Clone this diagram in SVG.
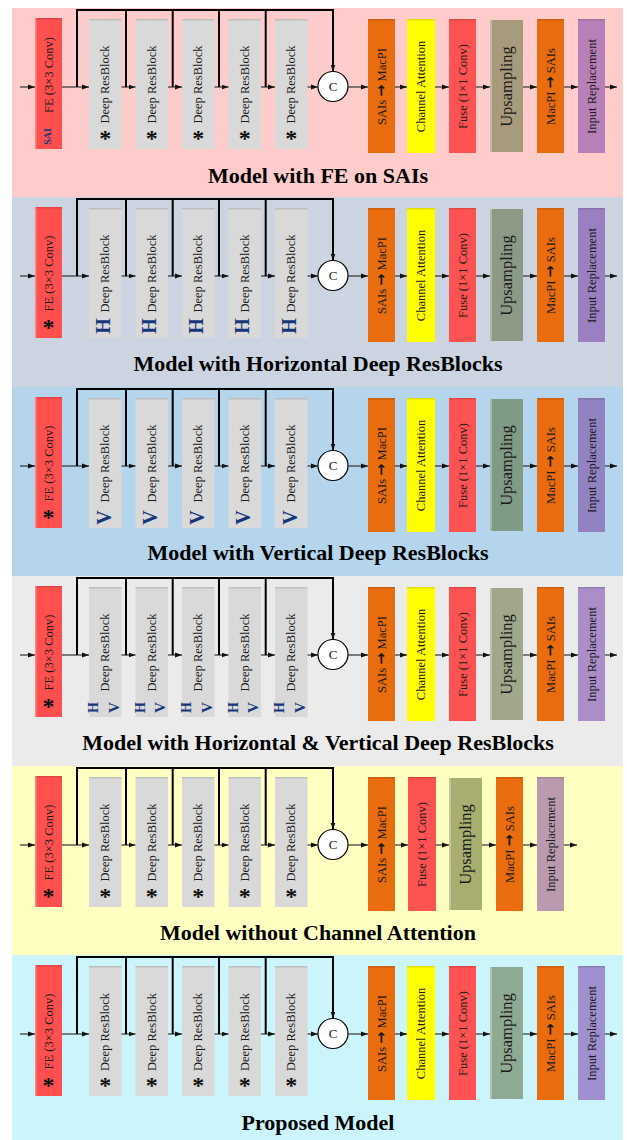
<svg xmlns="http://www.w3.org/2000/svg" width="627" height="1140" viewBox="0 0 627 1140">
<defs>
<marker id="ah" markerUnits="userSpaceOnUse" markerWidth="7" markerHeight="6" viewBox="0 0 7 6" refX="7" refY="3" orient="auto"><path d="M0,0.5L7,3L0,5.5z" fill="#111"/></marker>
<style>
.fe{fill:#FF4F4F}
.db{fill:#D9D9D9}
.or{fill:#E96C0F}
.ca{fill:#FFFF00}
.fu{fill:#FF5252}
.tp{fill:#000;opacity:.12}
.lf{fill:#fff;opacity:.3}
text{font-family:"Liberation Serif","Times New Roman",serif;fill:#1a1a1a}
.t{font-size:12.5px;text-anchor:middle}
.up{font-size:16.5px}
.ar{font-family:"DejaVu Sans",sans-serif;font-size:14.5px;font-weight:bold}
.ast{font-size:24px;font-weight:bold;text-anchor:middle;fill:#111}
.mk{font-weight:bold;fill:#17367A;text-anchor:middle}
.ttl{font-size:22px;font-weight:bold;text-anchor:middle;fill:#000}
.ln{fill:none;stroke:#333;stroke-width:1.2;marker-end:url(#ah)}
.bus{fill:none;stroke:#000;stroke-width:2}
.bar{fill:none;stroke:#000;stroke-width:2;marker-end:url(#ah)}
.cc{fill:#fff;stroke:#000;stroke-width:1.2}
.c{font-size:13px;text-anchor:middle}
</style>
</defs>
<rect width="627" height="1140" fill="#fff"/>

<!-- ============ Panel 1: FE on SAIs ============ -->
<g id="panel1" transform="translate(0,8)">
<rect x="12" y="0" width="611" height="189" fill="#FFCCCC"/>
<g id="p1-fe"><rect class="fe" x="35" y="10" width="27" height="131"/><rect class="tp" x="35" y="10" width="27" height="1.5"/><rect class="lf" x="35" y="10" width="1.5" height="131"/>
<text class="t" transform="translate(52.5,67) rotate(-90)">FE (3×3 Conv)</text>
<text class="mk" font-size="10" transform="translate(51,128.5) rotate(-90)">SAI</text></g>
<g id="p1-drb1"><rect class="db" x="89" y="11" width="32.5" height="130"/><rect class="tp" x="89" y="11" width="32.5" height="1.5"/><text class="t" transform="translate(109.3,76.5) rotate(-90)">Deep ResBlock</text><text class="ast" x="105.3" y="137.5">*</text></g>
<g id="p1-drb2"><rect class="db" x="135.5" y="11" width="32.5" height="130"/><rect class="tp" x="135.5" y="11" width="32.5" height="1.5"/><text class="t" transform="translate(155.8,76.5) rotate(-90)">Deep ResBlock</text><text class="ast" x="151.8" y="137.5">*</text></g>
<g id="p1-drb3"><rect class="db" x="182" y="11" width="32.5" height="130"/><rect class="tp" x="182" y="11" width="32.5" height="1.5"/><text class="t" transform="translate(202.3,76.5) rotate(-90)">Deep ResBlock</text><text class="ast" x="198.3" y="137.5">*</text></g>
<g id="p1-drb4"><rect class="db" x="228.5" y="11" width="32.5" height="130"/><rect class="tp" x="228.5" y="11" width="32.5" height="1.5"/><text class="t" transform="translate(248.8,76.5) rotate(-90)">Deep ResBlock</text><text class="ast" x="244.8" y="137.5">*</text></g>
<g id="p1-drb5"><rect class="db" x="275" y="11" width="32.5" height="130"/><rect class="tp" x="275" y="11" width="32.5" height="1.5"/><text class="t" transform="translate(295.3,76.5) rotate(-90)">Deep ResBlock</text><text class="ast" x="291.3" y="137.5">*</text></g>
<g id="p1-concat"><circle class="cc" cx="333" cy="78.5" r="15"/><text class="c" x="333" y="83">C</text></g>
<g id="p1-s2m"><rect class="or" x="368" y="11" width="27" height="134"/><rect class="tp" x="368" y="11" width="27" height="1.5"/><text class="t" transform="translate(385.5,78.5) rotate(-90)">SAIs <tspan class="ar">→</tspan> MacPI</text></g>
<g id="p1-ca"><rect class="ca" x="407" y="11" width="28" height="134"/><rect class="tp" x="407" y="11" width="28" height="1.5"/><text class="t" transform="translate(425,78.5) rotate(-90)">Channel Attention</text></g>
<g id="p1-fuse"><rect class="fu" x="449" y="11" width="27" height="134"/><rect class="tp" x="449" y="11" width="27" height="1.5"/><text class="t" transform="translate(466.5,78.5) rotate(-90)">Fuse (1×1 Conv)</text></g>
<g id="p1-up"><rect x="490" y="12" width="33" height="132" fill="#A89A7C"/><rect class="lf" x="490" y="12" width="2" height="132"/><text class="t up" transform="translate(512,78.5) rotate(-90)">Upsampling</text></g>
<g id="p1-m2s"><rect class="or" x="537" y="11" width="27" height="134"/><rect class="tp" x="537" y="11" width="27" height="1.5"/><text class="t" transform="translate(554.5,78.5) rotate(-90)">MacPI <tspan class="ar">→</tspan> SAIs</text></g>
<g id="p1-ir"><rect x="578" y="11" width="27" height="134" fill="#B880B8"/><rect class="tp" x="578" y="11" width="27" height="1.5"/><text class="t" transform="translate(595.5,78.5) rotate(-90)">Input Replacement</text></g>
<g id="p1-links">
<path class="ln" d="M20,79H35"/><path class="ln" d="M62,79H89"/><path class="ln" d="M121.5,79H135.5"/><path class="ln" d="M168,79H182"/><path class="ln" d="M214.5,79H228.5"/><path class="ln" d="M261,79H275"/><path class="ln" d="M307.5,79H318"/><path class="ln" d="M348,79H368"/><path class="ln" d="M395,79H407"/><path class="ln" d="M435,79H449"/><path class="ln" d="M476,79H490"/><path class="ln" d="M523,79H537"/><path class="ln" d="M564,79H578"/><path class="ln" d="M605,79H617"/>
<path class="bar" d="M77,79V2H333V63.5"/><path class="bus" d="M126,79V2M172.7,79V2M219,79V2M265.7,79V2"/>
</g>
<text class="ttl" x="318" y="175">Model with FE on SAIs</text>
</g>

<!-- ============ Panel 2: horizontal Deep ResBlocks ============ -->
<g id="panel2" transform="translate(0,197)">
<rect x="12" y="0" width="611" height="190" fill="#CCD3E1"/>
<g id="p2-fe"><rect class="fe" x="35" y="10" width="27" height="131"/><rect class="tp" x="35" y="10" width="27" height="1.5"/><rect class="lf" x="35" y="10" width="1.5" height="131"/>
<text class="t" transform="translate(52.5,76.5) rotate(-90)">FE (3×3 Conv)</text><text class="ast" x="48.5" y="137.5">*</text></g>
<g id="p2-drb1"><rect class="db" x="89" y="11" width="32.5" height="130"/><rect class="tp" x="89" y="11" width="32.5" height="1.5"/><text class="t" transform="translate(109.3,76.5) rotate(-90)">Deep ResBlock</text><text class="mk" font-size="20" transform="translate(109.8,129) rotate(-90)">H</text></g>
<g id="p2-drb2"><rect class="db" x="135.5" y="11" width="32.5" height="130"/><rect class="tp" x="135.5" y="11" width="32.5" height="1.5"/><text class="t" transform="translate(155.8,76.5) rotate(-90)">Deep ResBlock</text><text class="mk" font-size="20" transform="translate(156.3,129) rotate(-90)">H</text></g>
<g id="p2-drb3"><rect class="db" x="182" y="11" width="32.5" height="130"/><rect class="tp" x="182" y="11" width="32.5" height="1.5"/><text class="t" transform="translate(202.3,76.5) rotate(-90)">Deep ResBlock</text><text class="mk" font-size="20" transform="translate(202.8,129) rotate(-90)">H</text></g>
<g id="p2-drb4"><rect class="db" x="228.5" y="11" width="32.5" height="130"/><rect class="tp" x="228.5" y="11" width="32.5" height="1.5"/><text class="t" transform="translate(248.8,76.5) rotate(-90)">Deep ResBlock</text><text class="mk" font-size="20" transform="translate(249.3,129) rotate(-90)">H</text></g>
<g id="p2-drb5"><rect class="db" x="275" y="11" width="32.5" height="130"/><rect class="tp" x="275" y="11" width="32.5" height="1.5"/><text class="t" transform="translate(295.3,76.5) rotate(-90)">Deep ResBlock</text><text class="mk" font-size="20" transform="translate(295.8,129) rotate(-90)">H</text></g>
<g id="p2-concat"><circle class="cc" cx="333" cy="78.5" r="15"/><text class="c" x="333" y="83">C</text></g>
<g id="p2-s2m"><rect class="or" x="368" y="11" width="27" height="134"/><rect class="tp" x="368" y="11" width="27" height="1.5"/><text class="t" transform="translate(385.5,78.5) rotate(-90)">SAIs <tspan class="ar">→</tspan> MacPI</text></g>
<g id="p2-ca"><rect class="ca" x="407" y="11" width="28" height="134"/><rect class="tp" x="407" y="11" width="28" height="1.5"/><text class="t" transform="translate(425,78.5) rotate(-90)">Channel Attention</text></g>
<g id="p2-fuse"><rect class="fu" x="449" y="11" width="27" height="134"/><rect class="tp" x="449" y="11" width="27" height="1.5"/><text class="t" transform="translate(466.5,78.5) rotate(-90)">Fuse (1×1 Conv)</text></g>
<g id="p2-up"><rect x="490" y="12" width="33" height="132" fill="#8C9A85"/><rect class="lf" x="490" y="12" width="2" height="132"/><text class="t up" transform="translate(512,78.5) rotate(-90)">Upsampling</text></g>
<g id="p2-m2s"><rect class="or" x="537" y="11" width="27" height="134"/><rect class="tp" x="537" y="11" width="27" height="1.5"/><text class="t" transform="translate(554.5,78.5) rotate(-90)">MacPI <tspan class="ar">→</tspan> SAIs</text></g>
<g id="p2-ir"><rect x="578" y="11" width="27" height="134" fill="#9A80C0"/><rect class="tp" x="578" y="11" width="27" height="1.5"/><text class="t" transform="translate(595.5,78.5) rotate(-90)">Input Replacement</text></g>
<g id="p2-links">
<path class="ln" d="M20,79H35"/><path class="ln" d="M62,79H89"/><path class="ln" d="M121.5,79H135.5"/><path class="ln" d="M168,79H182"/><path class="ln" d="M214.5,79H228.5"/><path class="ln" d="M261,79H275"/><path class="ln" d="M307.5,79H318"/><path class="ln" d="M348,79H368"/><path class="ln" d="M395,79H407"/><path class="ln" d="M435,79H449"/><path class="ln" d="M476,79H490"/><path class="ln" d="M523,79H537"/><path class="ln" d="M564,79H578"/><path class="ln" d="M605,79H617"/>
<path class="bar" d="M77,79V2H333V63.5"/><path class="bus" d="M126,79V2M172.7,79V2M219,79V2M265.7,79V2"/>
</g>
<text class="ttl" x="318" y="174">Model with Horizontal Deep ResBlocks</text>
</g>

<!-- ============ Panel 3: vertical Deep ResBlocks ============ -->
<g id="panel3" transform="translate(0,387)">
<rect x="12" y="0" width="611" height="189" fill="#B4D5EC"/>
<g id="p3-fe"><rect class="fe" x="35" y="10" width="27" height="131"/><rect class="tp" x="35" y="10" width="27" height="1.5"/><rect class="lf" x="35" y="10" width="1.5" height="131"/>
<text class="t" transform="translate(52.5,76.5) rotate(-90)">FE (3×3 Conv)</text><text class="ast" x="48.5" y="137.5">*</text></g>
<g id="p3-drb1"><rect class="db" x="89" y="11" width="32.5" height="130"/><rect class="tp" x="89" y="11" width="32.5" height="1.5"/><text class="t" transform="translate(109.3,76.5) rotate(-90)">Deep ResBlock</text><text class="mk" font-size="20" transform="translate(110.8,130.5) rotate(-90)">V</text></g>
<g id="p3-drb2"><rect class="db" x="135.5" y="11" width="32.5" height="130"/><rect class="tp" x="135.5" y="11" width="32.5" height="1.5"/><text class="t" transform="translate(155.8,76.5) rotate(-90)">Deep ResBlock</text><text class="mk" font-size="20" transform="translate(157.3,130.5) rotate(-90)">V</text></g>
<g id="p3-drb3"><rect class="db" x="182" y="11" width="32.5" height="130"/><rect class="tp" x="182" y="11" width="32.5" height="1.5"/><text class="t" transform="translate(202.3,76.5) rotate(-90)">Deep ResBlock</text><text class="mk" font-size="20" transform="translate(203.8,130.5) rotate(-90)">V</text></g>
<g id="p3-drb4"><rect class="db" x="228.5" y="11" width="32.5" height="130"/><rect class="tp" x="228.5" y="11" width="32.5" height="1.5"/><text class="t" transform="translate(248.8,76.5) rotate(-90)">Deep ResBlock</text><text class="mk" font-size="20" transform="translate(250.3,130.5) rotate(-90)">V</text></g>
<g id="p3-drb5"><rect class="db" x="275" y="11" width="32.5" height="130"/><rect class="tp" x="275" y="11" width="32.5" height="1.5"/><text class="t" transform="translate(295.3,76.5) rotate(-90)">Deep ResBlock</text><text class="mk" font-size="20" transform="translate(296.8,130.5) rotate(-90)">V</text></g>
<g id="p3-concat"><circle class="cc" cx="333" cy="78.5" r="15"/><text class="c" x="333" y="83">C</text></g>
<g id="p3-s2m"><rect class="or" x="368" y="11" width="27" height="134"/><rect class="tp" x="368" y="11" width="27" height="1.5"/><text class="t" transform="translate(385.5,78.5) rotate(-90)">SAIs <tspan class="ar">→</tspan> MacPI</text></g>
<g id="p3-ca"><rect class="ca" x="407" y="11" width="28" height="134"/><rect class="tp" x="407" y="11" width="28" height="1.5"/><text class="t" transform="translate(425,78.5) rotate(-90)">Channel Attention</text></g>
<g id="p3-fuse"><rect class="fu" x="449" y="11" width="27" height="134"/><rect class="tp" x="449" y="11" width="27" height="1.5"/><text class="t" transform="translate(466.5,78.5) rotate(-90)">Fuse (1×1 Conv)</text></g>
<g id="p3-up"><rect x="490" y="12" width="33" height="132" fill="#7F9A85"/><rect class="lf" x="490" y="12" width="2" height="132"/><text class="t up" transform="translate(512,78.5) rotate(-90)">Upsampling</text></g>
<g id="p3-m2s"><rect class="or" x="537" y="11" width="27" height="134"/><rect class="tp" x="537" y="11" width="27" height="1.5"/><text class="t" transform="translate(554.5,78.5) rotate(-90)">MacPI <tspan class="ar">→</tspan> SAIs</text></g>
<g id="p3-ir"><rect x="578" y="11" width="27" height="134" fill="#9282C2"/><rect class="tp" x="578" y="11" width="27" height="1.5"/><text class="t" transform="translate(595.5,78.5) rotate(-90)">Input Replacement</text></g>
<g id="p3-links">
<path class="ln" d="M20,79H35"/><path class="ln" d="M62,79H89"/><path class="ln" d="M121.5,79H135.5"/><path class="ln" d="M168,79H182"/><path class="ln" d="M214.5,79H228.5"/><path class="ln" d="M261,79H275"/><path class="ln" d="M307.5,79H318"/><path class="ln" d="M348,79H368"/><path class="ln" d="M395,79H407"/><path class="ln" d="M435,79H449"/><path class="ln" d="M476,79H490"/><path class="ln" d="M523,79H537"/><path class="ln" d="M564,79H578"/><path class="ln" d="M605,79H617"/>
<path class="bar" d="M77,79V2H333V63.5"/><path class="bus" d="M126,79V2M172.7,79V2M219,79V2M265.7,79V2"/>
</g>
<text class="ttl" x="318" y="173">Model with Vertical Deep ResBlocks</text>
</g>

<!-- ============ Panel 4: horizontal & vertical Deep ResBlocks ============ -->
<g id="panel4" transform="translate(0,576)">
<rect x="12" y="0" width="611" height="190" fill="#EBEBEB"/>
<g id="p4-fe"><rect class="fe" x="35" y="10" width="27" height="131"/><rect class="tp" x="35" y="10" width="27" height="1.5"/><rect class="lf" x="35" y="10" width="1.5" height="131"/>
<text class="t" transform="translate(52.5,76.5) rotate(-90)">FE (3×3 Conv)</text><text class="ast" x="48.5" y="137.5">*</text></g>
<g id="p4-drb1"><rect class="db" x="89" y="11" width="32.5" height="130"/><rect class="tp" x="89" y="11" width="32.5" height="1.5"/><text class="t" transform="translate(109.3,76.5) rotate(-90)">Deep ResBlock</text><text class="mk" font-size="14" transform="translate(98,131.5) rotate(-90)">H</text><text class="mk" font-size="15" transform="translate(118.5,131.5) rotate(-90)">V</text></g>
<g id="p4-drb2"><rect class="db" x="135.5" y="11" width="32.5" height="130"/><rect class="tp" x="135.5" y="11" width="32.5" height="1.5"/><text class="t" transform="translate(155.8,76.5) rotate(-90)">Deep ResBlock</text><text class="mk" font-size="14" transform="translate(144.5,131.5) rotate(-90)">H</text><text class="mk" font-size="15" transform="translate(165,131.5) rotate(-90)">V</text></g>
<g id="p4-drb3"><rect class="db" x="182" y="11" width="32.5" height="130"/><rect class="tp" x="182" y="11" width="32.5" height="1.5"/><text class="t" transform="translate(202.3,76.5) rotate(-90)">Deep ResBlock</text><text class="mk" font-size="14" transform="translate(191,131.5) rotate(-90)">H</text><text class="mk" font-size="15" transform="translate(211.5,131.5) rotate(-90)">V</text></g>
<g id="p4-drb4"><rect class="db" x="228.5" y="11" width="32.5" height="130"/><rect class="tp" x="228.5" y="11" width="32.5" height="1.5"/><text class="t" transform="translate(248.8,76.5) rotate(-90)">Deep ResBlock</text><text class="mk" font-size="14" transform="translate(237.5,131.5) rotate(-90)">H</text><text class="mk" font-size="15" transform="translate(258,131.5) rotate(-90)">V</text></g>
<g id="p4-drb5"><rect class="db" x="275" y="11" width="32.5" height="130"/><rect class="tp" x="275" y="11" width="32.5" height="1.5"/><text class="t" transform="translate(295.3,76.5) rotate(-90)">Deep ResBlock</text><text class="mk" font-size="14" transform="translate(284,131.5) rotate(-90)">H</text><text class="mk" font-size="15" transform="translate(304.5,131.5) rotate(-90)">V</text></g>
<g id="p4-concat"><circle class="cc" cx="333" cy="78.5" r="15"/><text class="c" x="333" y="83">C</text></g>
<g id="p4-s2m"><rect class="or" x="368" y="11" width="27" height="134"/><rect class="tp" x="368" y="11" width="27" height="1.5"/><text class="t" transform="translate(385.5,78.5) rotate(-90)">SAIs <tspan class="ar">→</tspan> MacPI</text></g>
<g id="p4-ca"><rect class="ca" x="407" y="11" width="28" height="134"/><rect class="tp" x="407" y="11" width="28" height="1.5"/><text class="t" transform="translate(425,78.5) rotate(-90)">Channel Attention</text></g>
<g id="p4-fuse"><rect class="fu" x="449" y="11" width="27" height="134"/><rect class="tp" x="449" y="11" width="27" height="1.5"/><text class="t" transform="translate(466.5,78.5) rotate(-90)">Fuse (1×1 Conv)</text></g>
<g id="p4-up"><rect x="490" y="12" width="33" height="132" fill="#A0A78A"/><rect class="lf" x="490" y="12" width="2" height="132"/><text class="t up" transform="translate(512,78.5) rotate(-90)">Upsampling</text></g>
<g id="p4-m2s"><rect class="or" x="537" y="11" width="27" height="134"/><rect class="tp" x="537" y="11" width="27" height="1.5"/><text class="t" transform="translate(554.5,78.5) rotate(-90)">MacPI <tspan class="ar">→</tspan> SAIs</text></g>
<g id="p4-ir"><rect x="578" y="11" width="27" height="134" fill="#AB8DC8"/><rect class="tp" x="578" y="11" width="27" height="1.5"/><text class="t" transform="translate(595.5,78.5) rotate(-90)">Input Replacement</text></g>
<g id="p4-links">
<path class="ln" d="M20,79H35"/><path class="ln" d="M62,79H89"/><path class="ln" d="M121.5,79H135.5"/><path class="ln" d="M168,79H182"/><path class="ln" d="M214.5,79H228.5"/><path class="ln" d="M261,79H275"/><path class="ln" d="M307.5,79H318"/><path class="ln" d="M348,79H368"/><path class="ln" d="M395,79H407"/><path class="ln" d="M435,79H449"/><path class="ln" d="M476,79H490"/><path class="ln" d="M523,79H537"/><path class="ln" d="M564,79H578"/><path class="ln" d="M605,79H617"/>
<path class="bar" d="M77,79V2H333V63.5"/><path class="bus" d="M126,79V2M172.7,79V2M219,79V2M265.7,79V2"/>
</g>
<text class="ttl" x="318" y="174">Model with Horizontal &amp; Vertical Deep ResBlocks</text>
</g>

<!-- ============ Panel 5: without channel attention ============ -->
<g id="panel5" transform="translate(0,766)">
<rect x="12" y="0" width="611" height="189" fill="#FFFFC2"/>
<g id="p5-fe"><rect class="fe" x="35" y="10" width="27" height="131"/><rect class="tp" x="35" y="10" width="27" height="1.5"/><rect class="lf" x="35" y="10" width="1.5" height="131"/>
<text class="t" transform="translate(52.5,76.5) rotate(-90)">FE (3×3 Conv)</text><text class="ast" x="48.5" y="137.5">*</text></g>
<g id="p5-drb1"><rect class="db" x="89" y="11" width="32.5" height="130"/><rect class="tp" x="89" y="11" width="32.5" height="1.5"/><text class="t" transform="translate(109.3,76.5) rotate(-90)">Deep ResBlock</text><text class="ast" x="105.3" y="137.5">*</text></g>
<g id="p5-drb2"><rect class="db" x="135.5" y="11" width="32.5" height="130"/><rect class="tp" x="135.5" y="11" width="32.5" height="1.5"/><text class="t" transform="translate(155.8,76.5) rotate(-90)">Deep ResBlock</text><text class="ast" x="151.8" y="137.5">*</text></g>
<g id="p5-drb3"><rect class="db" x="182" y="11" width="32.5" height="130"/><rect class="tp" x="182" y="11" width="32.5" height="1.5"/><text class="t" transform="translate(202.3,76.5) rotate(-90)">Deep ResBlock</text><text class="ast" x="198.3" y="137.5">*</text></g>
<g id="p5-drb4"><rect class="db" x="228.5" y="11" width="32.5" height="130"/><rect class="tp" x="228.5" y="11" width="32.5" height="1.5"/><text class="t" transform="translate(248.8,76.5) rotate(-90)">Deep ResBlock</text><text class="ast" x="244.8" y="137.5">*</text></g>
<g id="p5-drb5"><rect class="db" x="275" y="11" width="32.5" height="130"/><rect class="tp" x="275" y="11" width="32.5" height="1.5"/><text class="t" transform="translate(295.3,76.5) rotate(-90)">Deep ResBlock</text><text class="ast" x="291.3" y="137.5">*</text></g>
<g id="p5-concat"><circle class="cc" cx="333" cy="78.5" r="15"/><text class="c" x="333" y="83">C</text></g>
<g id="p5-s2m"><rect class="or" x="368" y="11" width="27" height="134"/><rect class="tp" x="368" y="11" width="27" height="1.5"/><text class="t" transform="translate(385.5,78.5) rotate(-90)">SAIs <tspan class="ar">→</tspan> MacPI</text></g>
<g id="p5-fuse"><rect class="fu" x="408" y="11" width="28" height="134"/><rect class="tp" x="408" y="11" width="28" height="1.5"/><text class="t" transform="translate(426,78.5) rotate(-90)">Fuse (1×1 Conv)</text></g>
<g id="p5-up"><rect x="449" y="12" width="33" height="132" fill="#A7AE6F"/><rect class="lf" x="449" y="12" width="2" height="132"/><text class="t up" transform="translate(471,78.5) rotate(-90)">Upsampling</text></g>
<g id="p5-m2s"><rect class="or" x="496" y="11" width="27" height="134"/><rect class="tp" x="496" y="11" width="27" height="1.5"/><text class="t" transform="translate(513.5,78.5) rotate(-90)">MacPI <tspan class="ar">→</tspan> SAIs</text></g>
<g id="p5-ir"><rect x="537" y="11" width="27" height="134" fill="#B99AAE"/><rect class="tp" x="537" y="11" width="27" height="1.5"/><text class="t" transform="translate(554.5,78.5) rotate(-90)">Input Replacement</text></g>
<g id="p5-links">
<path class="ln" d="M20,79H35"/><path class="ln" d="M62,79H89"/><path class="ln" d="M121.5,79H135.5"/><path class="ln" d="M168,79H182"/><path class="ln" d="M214.5,79H228.5"/><path class="ln" d="M261,79H275"/><path class="ln" d="M307.5,79H318"/><path class="ln" d="M348,79H368"/><path class="ln" d="M395,79H408"/><path class="ln" d="M436,79H449"/><path class="ln" d="M482,79H496"/><path class="ln" d="M523,79H537"/><path class="ln" d="M564,79H577"/>
<path class="bar" d="M77,79V2H333V63.5"/><path class="bus" d="M126,79V2M172.7,79V2M219,79V2M265.7,79V2"/>
</g>
<text class="ttl" x="318" y="174">Model without Channel Attention</text>
</g>

<!-- ============ Panel 6: proposed model ============ -->
<g id="panel6" transform="translate(0,955)">
<rect x="12" y="0" width="611" height="185" fill="#CCF4FB"/>
<g id="p6-fe"><rect class="fe" x="35" y="10" width="27" height="131"/><rect class="tp" x="35" y="10" width="27" height="1.5"/><rect class="lf" x="35" y="10" width="1.5" height="131"/>
<text class="t" transform="translate(52.5,76.5) rotate(-90)">FE (3×3 Conv)</text><text class="ast" x="48.5" y="138.3">*</text></g>
<g id="p6-drb1"><rect class="db" x="89" y="11" width="32.5" height="130"/><rect class="tp" x="89" y="11" width="32.5" height="1.5"/><text class="t" transform="translate(109.3,77) rotate(-90)">Deep ResBlock</text><text class="ast" x="105.3" y="138.3">*</text></g>
<g id="p6-drb2"><rect class="db" x="135.5" y="11" width="32.5" height="130"/><rect class="tp" x="135.5" y="11" width="32.5" height="1.5"/><text class="t" transform="translate(155.8,77) rotate(-90)">Deep ResBlock</text><text class="ast" x="151.8" y="138.3">*</text></g>
<g id="p6-drb3"><rect class="db" x="182" y="11" width="32.5" height="130"/><rect class="tp" x="182" y="11" width="32.5" height="1.5"/><text class="t" transform="translate(202.3,77) rotate(-90)">Deep ResBlock</text><text class="ast" x="198.3" y="138.3">*</text></g>
<g id="p6-drb4"><rect class="db" x="228.5" y="11" width="32.5" height="130"/><rect class="tp" x="228.5" y="11" width="32.5" height="1.5"/><text class="t" transform="translate(248.8,77) rotate(-90)">Deep ResBlock</text><text class="ast" x="244.8" y="138.3">*</text></g>
<g id="p6-drb5"><rect class="db" x="275" y="11" width="32.5" height="130"/><rect class="tp" x="275" y="11" width="32.5" height="1.5"/><text class="t" transform="translate(295.3,77) rotate(-90)">Deep ResBlock</text><text class="ast" x="291.3" y="138.3">*</text></g>
<g id="p6-concat"><circle class="cc" cx="333" cy="78.5" r="15"/><text class="c" x="333" y="83">C</text></g>
<g id="p6-s2m"><rect class="or" x="368" y="11" width="27" height="134"/><rect class="tp" x="368" y="11" width="27" height="1.5"/><text class="t" transform="translate(385.5,78.5) rotate(-90)">SAIs <tspan class="ar">→</tspan> MacPI</text></g>
<g id="p6-ca"><rect class="ca" x="407" y="11" width="28" height="134"/><rect class="tp" x="407" y="11" width="28" height="1.5"/><text class="t" transform="translate(425,78.5) rotate(-90)">Channel Attention</text></g>
<g id="p6-fuse"><rect class="fu" x="449" y="11" width="27" height="134"/><rect class="tp" x="449" y="11" width="27" height="1.5"/><text class="t" transform="translate(466.5,78.5) rotate(-90)">Fuse (1×1 Conv)</text></g>
<g id="p6-up"><rect x="490" y="12" width="33" height="132" fill="#8FAA93"/><rect class="lf" x="490" y="12" width="2" height="132"/><text class="t up" transform="translate(512,78.5) rotate(-90)">Upsampling</text></g>
<g id="p6-m2s"><rect class="or" x="537" y="11" width="27" height="134"/><rect class="tp" x="537" y="11" width="27" height="1.5"/><text class="t" transform="translate(554.5,78.5) rotate(-90)">MacPI <tspan class="ar">→</tspan> SAIs</text></g>
<g id="p6-ir"><rect x="578" y="11" width="27" height="134" fill="#9F90D0"/><rect class="tp" x="578" y="11" width="27" height="1.5"/><text class="t" transform="translate(595.5,78.5) rotate(-90)">Input Replacement</text></g>
<g id="p6-links">
<path class="ln" d="M20,79H35"/><path class="ln" d="M62,79H89"/><path class="ln" d="M121.5,79H135.5"/><path class="ln" d="M168,79H182"/><path class="ln" d="M214.5,79H228.5"/><path class="ln" d="M261,79H275"/><path class="ln" d="M307.5,79H318"/><path class="ln" d="M348,79H368"/><path class="ln" d="M395,79H407"/><path class="ln" d="M435,79H449"/><path class="ln" d="M476,79H490"/><path class="ln" d="M523,79H537"/><path class="ln" d="M564,79H578"/><path class="ln" d="M605,79H617"/>
<path class="bar" d="M77,79V2H333V63.5"/><path class="bus" d="M126,79V2M172.7,79V2M219,79V2M265.7,79V2"/>
</g>
<text class="ttl" x="318" y="175">Proposed Model</text>
</g>
</svg>
